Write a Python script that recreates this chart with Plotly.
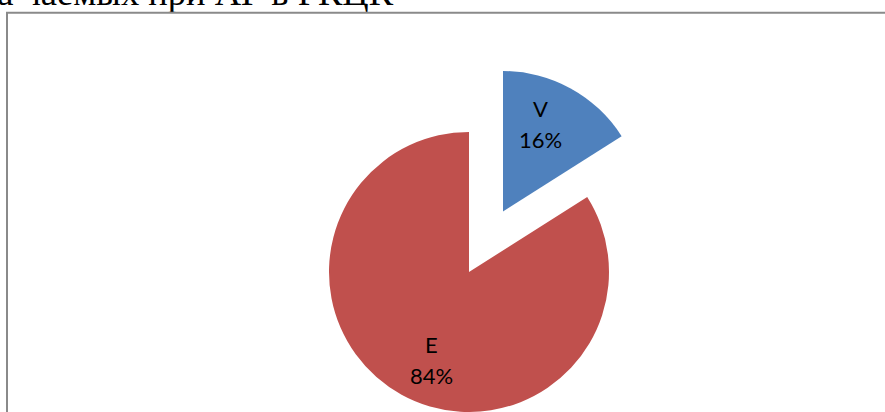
import math
import plotly.graph_objects as go

# Share of the two groups
labels = ["V", "E"]
values = [16, 84]
colors = ["#4F81BD", "#C0504D"]

# Caption line above the chart frame (only its lower part is on the page)
caption = "а чаемых при АГ в РКЦК"

W, H = 885, 412


def px_x(x):
    return x / W


def px_y(y_top):
    return (H - y_top) / H


R = 140.5
# main pie centre, and centre of the exploded "V" slice
c_main = (469, 272.5)
c_pull = (503, 211.5)
centres = [c_pull, c_main]


def dom(c):
    cx, cy = c
    y0 = max(0.0, px_y(cy + R))
    y1 = px_y(cy - R)
    return dict(x=[px_x(cx - R), px_x(cx + R)], y=[y0, y1])


common = dict(
    labels=labels,
    values=values,
    sort=False,
    direction="clockwise",
    rotation=0,
    textinfo="none",
    hoverinfo="label+percent",
    showlegend=False,
)

fig = go.Figure()
# body of the pie: "E" slice, "V" left empty
fig.add_trace(go.Pie(
    **common,
    domain=dom(c_main),
    marker=dict(colors=["rgba(0,0,0,0)", colors[1]], line=dict(width=0)),
))
# exploded "V" slice
fig.add_trace(go.Pie(
    **common,
    domain=dom(c_pull),
    marker=dict(colors=[colors[0], "rgba(0,0,0,0)"], line=dict(width=0)),
))

# caption text, clipped by a thin strip above the frame
fig.add_trace(go.Scatter(
    x=[393], y=[16.3], mode="text", text=[caption],
    textposition="middle left",
    textfont=dict(family="Liberation Serif", size=36.5, color="black"),
    cliponaxis=True, hoverinfo="skip", showlegend=False,
    xaxis="x", yaxis="y",
))

# data labels: category name over its percentage, placed along each slice
total = sum(values)
label_r = 0.68 * R
angle_shift = -5.6  # degrees, labels sit a little before the slice middle
line_gap = 31
label_font = dict(family="Lato", size=22, color="black")
annotations = []
start = 0.0
for lab, val, (cx, cy) in zip(labels, values, centres):
    frac = val / total
    mid = (start + frac / 2) * 360 + angle_shift
    start += frac
    lx = cx + label_r * math.sin(math.radians(mid))
    ly = cy - label_r * math.cos(math.radians(mid))
    for txt, dy in ((lab, -line_gap / 2), (f"{round(frac * 100)}%", line_gap / 2)):
        annotations.append(dict(
            text=txt, x=px_x(lx), y=px_y(ly + dy), xref="paper", yref="paper",
            xanchor="center", yanchor="middle", showarrow=False, font=label_font,
        ))

fig.update_layout(
    width=W, height=H,
    margin=dict(l=0, r=0, t=0, b=0),
    paper_bgcolor="white", plot_bgcolor="rgba(0,0,0,0)",
    xaxis=dict(domain=[0, 1], range=[0, W], visible=False, fixedrange=True),
    yaxis=dict(domain=[px_y(12.5), 1], range=[0, 12.5], visible=False, fixedrange=True),
    annotations=annotations,
    shapes=[dict(
        type="rect", xref="paper", yref="paper",
        x0=px_x(7), x1=px_x(W + 20), y0=px_y(H + 20), y1=px_y(12.8),
        line=dict(color="#8A8A8A", width=2), fillcolor="rgba(0,0,0,0)",
        layer="above",
    )],
)

fig.write_html("out.html")
